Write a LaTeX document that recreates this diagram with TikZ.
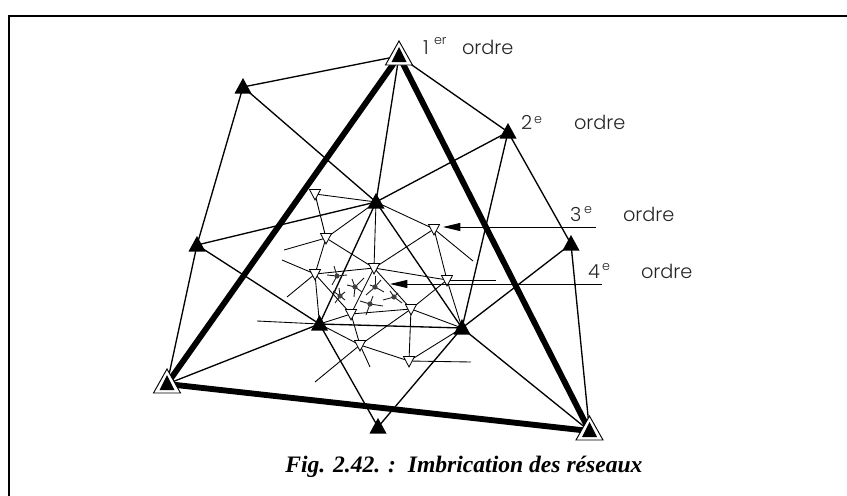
\documentclass[tikz,border=0pt]{standalone}
\usepackage{fontspec}
\setmainfont{Liberation Serif}
\newfontfamily\lab{Poppins Light}
\usetikzlibrary{arrows.meta}
\tikzset{
  x=0.75pt,y=-0.75pt,
  frameline/.style={line width=1.5pt,line cap=butt},
  firstline/.style={line width=4.4pt},
  secondline/.style={line width=1pt},
  thirdline/.style={line width=0.65pt},
  fourthline/.style={line width=0.65pt,black!90},
  pointer/.style={line width=0.7pt,-{Triangle[length=13pt,width=6pt]}},
  ordlabel/.style={anchor=base west,inner sep=0pt,outer sep=0pt,font=\lab\fontsize{14.5}{16}\selectfont,text=black!85},
  suplabel/.style={anchor=base west,inner sep=0pt,outer sep=0pt,font=\lab\fontsize{9.5}{11}\selectfont,text=black!85},
  firstmark/.pic={
    \draw[fill=white,line width=0.7pt] (0,-15) -- (13.5,9) -- (-13.5,9) -- cycle;
    \fill[black] (0,-9) -- (7.5,6) -- (-7.5,6) -- cycle;
  },
  secondmark/.pic={\fill[black] (0,-9) -- (8.5,6.5) -- (-8.5,6.5) -- cycle;},
  thirdmark/.pic={\draw[fill=white,line width=0.6pt] (-5.5,-4.5) -- (5.5,-4.5) -- (0,6) -- cycle;},
}
\newcommand{\starmark}[3]{%
  \coordinate (#1) at (#2);
  \foreach \qx/\qy in {#3} \draw[fourthline] (#1) -- ++(\qx,\qy);
  \fill[black!75] (#1) circle[radius=2.6];
}
\begin{document}
\begin{tikzpicture}
\useasboundingbox (0,0) rectangle (847,496);
% frame
\coordinate (f0) at (9,16); \coordinate (f1) at (847,16); \coordinate (f2) at (9,496);
\draw[frameline] (f1) -- (f0) -- (f2);
% first order points
\coordinate (A) at (399,56); \coordinate (B) at (167,384); \coordinate (C) at (589.5,431);
% second order points
\coordinate (P1) at (243,87); \coordinate (P2) at (508,132); \coordinate (P3) at (197,245);
\coordinate (P4) at (571,244); \coordinate (P5) at (378,427); \coordinate (O) at (376,202);
\coordinate (L) at (319.5,324); \coordinate (R) at (462,328);
% third order points
\coordinate (t1) at (315,194); \coordinate (t2) at (326,238); \coordinate (t3) at (434,229);
\coordinate (t4) at (374,268); \coordinate (t5) at (315,274); \coordinate (t6) at (447,280);
\coordinate (t7) at (411,309); \coordinate (t8) at (351,314); \coordinate (t9) at (360,345);
\coordinate (t10) at (409,361);
% free ends
\coordinate (e1) at (284,250); \coordinate (e2) at (473,261); \coordinate (e3) at (282,260);
\coordinate (e4) at (287,297); \coordinate (e5) at (496,280); \coordinate (e6) at (370,367);
\coordinate (e7) at (315,382); \coordinate (e8) at (471,362); \coordinate (e9) at (257,321);
% first order
\draw[firstline] (A) -- (B) -- (C) -- cycle;
% second order
\foreach \a/\b in {P1/A,P1/P3,P1/O,P2/A,P2/O,P2/R,P2/P4,P3/O,P3/B,P3/L,P4/R,P4/C,O/A,O/L,O/R,L/R,L/B,L/P5,R/P5,R/C}
  \draw[secondline] (\a) -- (\b);
% third order
\foreach \a/\b in {t1/O,t1/t2,t2/O,t2/t4,t2/e1,t2/t5,t3/O,t3/t4,t3/t6,t3/e2,t4/O,t4/t5,t4/t6,t4/t7,t4/t8,t5/t8,t5/L,t5/e3,t5/e4,t6/t7,t6/R,t6/e5,t7/t8,t7/R,t7/t9,t7/t10,t8/L,t8/t9,t9/L,t9/e6,t9/t10,t9/e7,t10/R,t10/e8,L/e9}
  \draw[thirdline] (\a) -- (\b);
% fourth order
\starmark{s1}{337,276}{-10/-1,10/-1,-3/-10,-5/9}
\starmark{s2}{355,287}{-8/-2,9/-9,-3/-8,-1/10,7/5}
\starmark{s3}{375,287}{-9/8,6/-7,0/-11,9/5,-5/-2}
\starmark{s4}{340,296}{-7/-5,5/-4,-5/7,5/4,-1/-8}
\starmark{s5}{370,304}{-10/-3,13/2,3/-8,-4/11}
\starmark{s6}{394,297}{-11/3,8/6,-4/-6,4/-4}
% markers
\foreach \p in {t1,t2,t3,t4,t5,t6,t7,t8,t9,t10} \pic at (\p) {thirdmark};
\foreach \p in {P1,P2,P3,P4,P5,O,L,R} \pic at (\p) {secondmark};
\foreach \p in {A,B,C} \pic at (\p) {firstmark};
% pointers
\coordinate (a3s) at (596,227); \coordinate (a3t) at (443,227);
\coordinate (a4s) at (602,284); \coordinate (a4t) at (390,284);
\draw[pointer] (a3s) -- (a3t);
\draw[pointer] (a4s) -- (a4t);
% labels
\node[ordlabel] (l1) at (423,54) {1};
\node[suplabel] (l1s) at (434,45) {er};
\node[ordlabel] (l1o) at (462,54) {ordre};
\node[ordlabel] (l2) at (521,129) {2};
\node[suplabel] (l2s) at (534,123) {e};
\node[ordlabel] (l2o) at (574,129) {ordre};
\node[ordlabel] (l3) at (570,221) {3};
\node[suplabel] (l3s) at (584,213) {e};
\node[ordlabel] (l3o) at (623,221) {ordre};
\node[ordlabel] (l4) at (588,278) {4};
\node[suplabel] (l4s) at (602,270) {e};
\node[ordlabel] (l4o) at (641,278) {ordre};
% caption
\node[anchor=base west,inner sep=0pt,font=\fontsize{17.7}{20}\selectfont\bfseries\itshape] (cap) at (285,472) {Fig. 2.42. :\ \ Imbrication des réseaux};
\end{tikzpicture}
\end{document}
